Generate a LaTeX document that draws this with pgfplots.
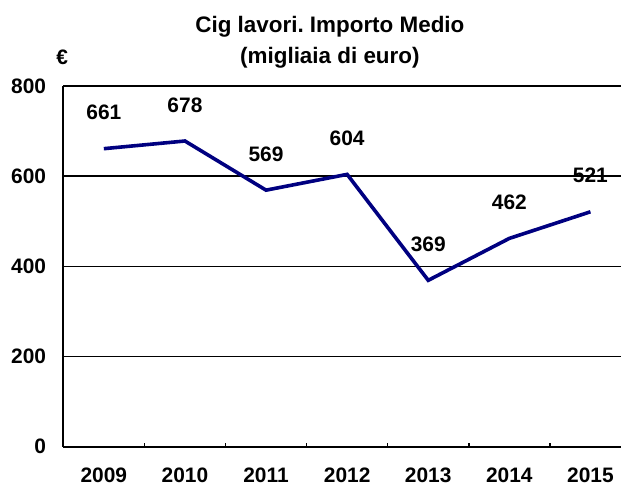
\documentclass[border=0pt]{standalone}
\usepackage{pgfplots}
\pgfplotsset{compat=1.18}
\usepackage{pgfplotstable}
\usepackage{fontspec}
\setmainfont{Liberation Sans}
\usetikzlibrary{calc}
\definecolor{navyline}{RGB}{0,0,128}

% importo medio (migliaia di euro)
\pgfplotstableread{
x year val
0 2009 661
1 2010 678
2 2011 569
3 2012 604
4 2013 369
5 2014 462
6 2015 521
}\cigdata

\newcommand{\lblfont}{\fontsize{21}{25}\selectfont\bfseries}

\begin{document}
\begin{tikzpicture}
\begin{axis}[
  scale only axis, width=557.7bp, height=360.7bp,
  xmin=-0.5, xmax=6.377, ymin=0, ymax=800,
  axis x line*=bottom, axis y line*=left,
  axis line style={line width=2.2bp, black, -},
  xtick={0,...,6},
  xticklabels={2009,2010,2011,2012,2013,2014,2015},
  minor xtick={0.5,1.5,2.5,3.5,4.5,5.5},
  ytick={0,200,400,600,800},
  ymajorgrids,
  major grid style={black, line width=1.5bp},
  major tick length=0pt, minor tick length=4bp,
  tick align=inside,
  minor tick style={black, line width=1.5bp},
  tick label style={font=\lblfont},
  /pgf/number format/assume math mode=true,
  xticklabel style={anchor=north, inner sep=0pt, yshift=-21bp},
  yticklabel style={anchor=east, inner sep=0pt, xshift=-17bp},
  nodes near coords,
  every node near coord/.append style={font=\lblfont, text=black, anchor=center, inner sep=0pt, yshift=36bp},
  clip=false,
]
\addplot[navyline, line width=3.6bp, mark=none] table[x=x, y=val] {\cigdata};
\node[font=\fontsize{22.5}{26}\selectfont\bfseries, anchor=base, yshift=53bp] at (rel axis cs:0.478,1) {\frenchspacing Cig lavori. Importo Medio};
\node[font=\fontsize{22.5}{26}\selectfont\bfseries, anchor=base, yshift=22bp] at (rel axis cs:0.478,1) {(migliaia di euro)};
\node[font=\lblfont, anchor=center, xshift=-1bp, yshift=29bp] at (rel axis cs:0,1) {€};
\coordinate (bl) at (rel axis cs:0,0);
\coordinate (tr) at (rel axis cs:1,1);
\end{axis}
\pgfresetboundingbox
\path[use as bounding box] ($(bl)+(-63.3bp,-40.3bp)$) rectangle ($(tr)+(0bp,86bp)$);
\end{tikzpicture}
\end{document}
